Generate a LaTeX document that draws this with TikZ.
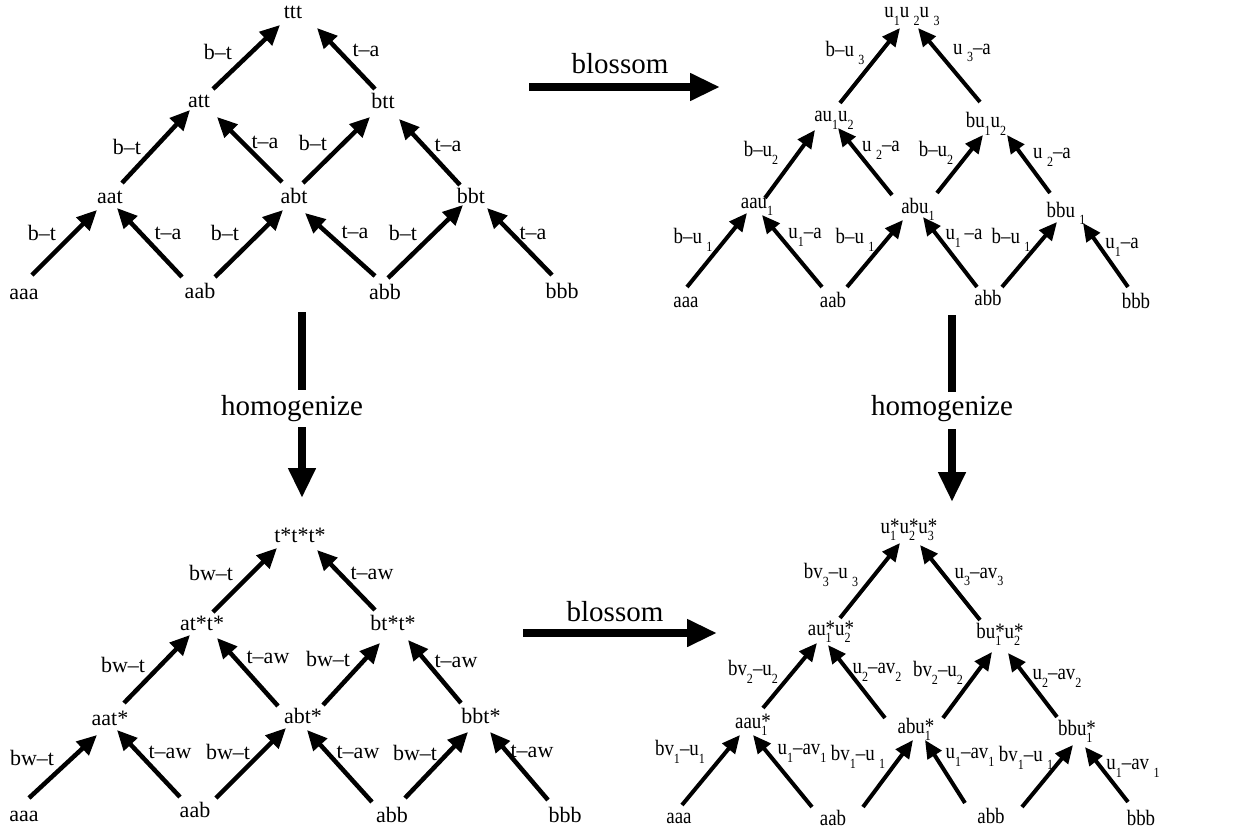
\documentclass[tikz,border=0pt]{standalone}
\usepackage{fontspec}
\setmainfont{Liberation Serif}
\newfontfamily\condfont[FakeStretch=0.86]{Liberation Serif}
\usetikzlibrary{arrows.meta}

% lowered subscript, optionally with a small gap before it
\newcommand\subdn[1]{\raisebox{-0.35em}{\fontsize{14}{14}\selectfont #1}}
\newcommand\subgap[1]{\hspace{0.2em}\subdn{#1}}
% u with a subscript and a star stacked above it
\newcommand\ustar[1]{u\rlap{\subdn{#1}}*}
% arrow between two labels, each end shifted from the label's base point
\newcommand\edgeup[5][arr]{\draw[#1] ([shift={(#3)}]#2.base) -- ([shift={(#5)}]#4.base);}

\begin{document}
\begin{tikzpicture}[x=1pt,y=-1pt,
  lbl/.style={font=\fontsize{22}{26}\selectfont, inner sep=0pt, anchor=base},
  rlbl/.style={font=\condfont\fontsize{22}{26}\selectfont, inner sep=0pt, anchor=base},
  elab/.style={font=\fontsize{22}{26}\selectfont, inner sep=0pt},
  relab/.style={font=\condfont\fontsize{22}{26}\selectfont, inner sep=0pt},
  big/.style={font=\fontsize{29}{34}\selectfont, inner sep=0pt, anchor=base},
  arr/.style={line width=4.5pt, -{Triangle[length=20pt,width=18pt]}},
  rarr/.style={line width=4pt, -{Triangle[length=18pt,width=16pt]}},
  bar/.style={line width=8pt},
  bigarr/.style={line width=8pt, -{Triangle[length=30pt,width=26pt]}}]
\useasboundingbox (0,0) rectangle (1245,832);

% ---------------- top left: t t t ----------------
\node[lbl] (A-ttt) at (293,19) {ttt};
\node[lbl] (A-att) at (199,108) {att};
\node[lbl] (A-btt) at (383,109) {btt};
\node[lbl] (A-aat) at (110,203) {aat};
\node[lbl] (A-abt) at (294,203) {abt};
\node[lbl] (A-bbt) at (471,203) {bbt};
\node[lbl] (A-aaa) at (24,299) {aaa};
\node[lbl] (A-aab) at (200,298) {aab};
\node[lbl] (A-abb) at (385,299) {abb};
\node[lbl] (A-bbb) at (562,298) {bbb};

\edgeup{A-aaa}{8,-24}{A-aat}{-13,7}
\edgeup{A-aab}{-18,-21}{A-aat}{7,5}
\edgeup{A-aab}{15,-21}{A-abt}{-11,7}
\edgeup{A-abb}{-10,-23}{A-abt}{11,10}
\edgeup{A-abb}{3,-21}{A-bbt}{-8,2}
\edgeup{A-bbb}{-10,-23}{A-bbt}{16,5}
\edgeup{A-aat}{12,-20}{A-att}{-9,2}
\edgeup{A-abt}{-12,-21}{A-att}{18,9}
\edgeup{A-abt}{9,-20}{A-btt}{-13,8}
\edgeup{A-bbt}{-11,-18}{A-btt}{16,10}
\edgeup{A-att}{14,-19}{A-ttt}{-13,6}
\edgeup{A-btt}{-8,-20}{A-ttt}{24,9}

\node[elab] (A-e1) at (42,233) {b–t};
\node[elab] (A-e2) at (168,233) {t–a};
\node[elab] (A-e3) at (225,233) {b–t};
\node[elab] (A-e4) at (355,232) {t–a};
\node[elab] (A-e5) at (403,233) {b–t};
\node[elab] (A-e6) at (533,233) {t–a};
\node[elab] (A-e7) at (127,147) {b–t};
\node[elab] (A-e8) at (265,142) {t–a};
\node[elab] (A-e9) at (313,143) {b–t};
\node[elab] (A-e10) at (448,145) {t–a};
\node[elab] (A-e11) at (218,52) {b–t};
\node[elab] (A-e12) at (366,50) {t–a};

% ---------------- top right: u1 u2 u3 ----------------
\node[rlbl] (B-top) at (912,18) {u\subdn1u\subgap2u\subgap3};
\node[rlbl] (B-au) at (834,122) {au\subdn1u\subdn2};
\node[rlbl] (B-bu) at (986,128) {bu\subdn1u\subdn2};
\node[rlbl] (B-aau) at (757,208) {aau\subdn1};
\node[rlbl] (B-abu) at (918,213) {abu\subdn1};
\node[rlbl] (B-bbu) at (1066,217) {bbu\subgap1};
\node[rlbl] (B-aaa) at (686,307) {aaa};
\node[rlbl] (B-aab) at (833,307) {aab};
\node[rlbl] (B-abb) at (988,305) {abb};
\node[rlbl] (B-bbb) at (1136,308) {bbb};

\edgeup[rarr]{B-aaa}{1,-20}{B-aau}{-10,5}
\edgeup[rarr]{B-aab}{-11,-20}{B-aau}{5,7}
\edgeup[rarr]{B-aab}{14,-20}{B-abu}{-15,7}
\edgeup[rarr]{B-abb}{-11,-18}{B-abu}{5,4}
\edgeup[rarr]{B-abb}{14,-18}{B-bbu}{-9,5}
\edgeup[rarr]{B-bbb}{-8,-21}{B-bbu}{17,6}
\edgeup[rarr]{B-aau}{8,-10}{B-au}{-19,8}
\edgeup[rarr]{B-abu}{-26,-18}{B-au}{4,6}
\edgeup[rarr]{B-abu}{19,-20}{B-bu}{-3,7}
\edgeup[rarr]{B-bbu}{-16,-24}{B-bu}{21,7}
\edgeup[rarr]{B-au}{6,-19}{B-top}{-12,10}
\edgeup[rarr]{B-bu}{-6,-26}{B-top}{6,10}

\node[relab] (B-e1) at (693,240) {b–u\subgap1};
\node[relab] (B-e2) at (805,237) {u\subdn1–a};
\node[relab] (B-e3) at (855,240) {b–u\subgap1};
\node[relab] (B-e4) at (964,238) {u\subdn1\,–a};
\node[relab] (B-e5) at (1011,240) {b–u\subgap1};
\node[relab] (B-e6) at (1122,247) {u\subdn1–a};
\node[relab] (B-e7) at (761,153) {b–u\subdn2};
\node[relab] (B-e8) at (881,150) {u\subgap2–a};
\node[relab] (B-e9) at (936,153) {b–u\subdn2};
\node[relab] (B-e10) at (1052,157) {u\subgap2–a};
\node[relab] (B-e11) at (845,53) {b–u\subgap3};
\node[relab] (B-e12) at (972,53) {u\subgap3–a};

% ---------------- bottom left: t* t* t* ----------------
\node[lbl] (C-top) at (300,542) {t*t*t*};
\node[lbl] (C-at) at (202,630) {at*t*};
\node[lbl] (C-bt) at (393,630) {bt*t*};
\node[lbl] (C-aat) at (110,725) {aat*};
\node[lbl] (C-abt) at (303,723) {abt*};
\node[lbl] (C-bbt) at (481,723) {bbt*};
\node[lbl] (C-aaa) at (24,821) {aaa};
\node[lbl] (C-aab) at (195,817) {aab};
\node[lbl] (C-abb) at (392,822) {abb};
\node[lbl] (C-bbb) at (565,822) {bbb};

\edgeup{C-aaa}{5,-23}{C-aat}{-13,10}
\edgeup{C-aab}{-15,-20}{C-aat}{7,5}
\edgeup{C-aab}{21,-19}{C-abt}{-17,5}
\edgeup{C-abb}{-20,-20}{C-abt}{4,7}
\edgeup{C-abb}{13,-24}{C-bbt}{-13,9}
\edgeup{C-bbb}{-17,-22}{C-bbt}{9,9}
\edgeup{C-aat}{14,-22}{C-at}{-12,5}
\edgeup{C-abt}{-25,-17}{C-at}{15,8}
\edgeup{C-abt}{20,-18}{C-bt}{-13,13}
\edgeup{C-bbt}{-20,-20}{C-bt}{15,10}
\edgeup{C-at}{11,-18}{C-top}{-23,6}
\edgeup{C-bt}{-18,-20}{C-top}{17,8}

\node[elab] (C-e1) at (32,758) {bw–t};
\node[elab] (C-e2) at (170,752) {t–aw};
\node[elab] (C-e3) at (228,752) {bw–t};
\node[elab] (C-e4) at (358,752) {t–aw};
\node[elab] (C-e5) at (415,753) {bw–t};
\node[elab] (C-e6) at (532,751) {t–aw};
\node[elab] (C-e7) at (123,665) {bw–t};
\node[elab] (C-e8) at (268,657) {t–aw};
\node[elab] (C-e9) at (328,659) {bw–t};
\node[elab] (C-e10) at (456,661) {t–aw};
\node[elab] (C-e11) at (211,573) {bw–t};
\node[elab] (C-e12) at (372,573) {t–aw};

% ---------------- bottom right: u1* u2* u3* ----------------
\node[rlbl] (D-top) at (909,533) {\ustar1\ustar2\ustar3};
\node[rlbl] (D-au) at (831,635) {a\ustar1\ustar2};
\node[rlbl] (D-bu) at (1000,638) {b\ustar1\ustar2};
\node[rlbl] (D-aau) at (753,728) {aa\ustar1};
\node[rlbl] (D-abu) at (916,733) {ab\ustar1};
\node[rlbl] (D-bbu) at (1077,735) {bb\ustar1};
\node[rlbl] (D-aaa) at (679,823) {aaa};
\node[rlbl] (D-aab) at (833,825) {aab};
\node[rlbl] (D-abb) at (991,823) {abb};
\node[rlbl] (D-bbb) at (1141,825) {bbb};

\edgeup[rarr]{D-aaa}{3,-18}{D-aau}{-13,7}
\edgeup[rarr]{D-aab}{-21,-18}{D-aau}{0,7}
\edgeup[rarr]{D-aab}{30,-18}{D-abu}{-3,7}
\edgeup[rarr]{D-abb}{-26,-20}{D-abu}{9,7}
\edgeup[rarr]{D-abb}{31,-16}{D-bbu}{-4,10}
\edgeup[rarr]{D-bbb}{-13,-23}{D-bbu}{8,12}
\edgeup[rarr]{D-aau}{10,-20}{D-au}{-14,8}
\edgeup[rarr]{D-abu}{-31,-15}{D-au}{-3,10}
\edgeup[rarr]{D-abu}{27,-15}{D-bu}{-8,14}
\edgeup[rarr]{D-bbu}{-20,-18}{D-bu}{8,15}
\edgeup[rarr]{D-au}{9,-17}{D-top}{-9,10}
\edgeup[rarr]{D-bu}{-20,-18}{D-top}{11,12}

\node[relab] (D-e1) at (680,752) {bv\subdn1–u\subdn1};
\node[relab] (D-e2) at (802,753) {u\subdn1–av\subdn1};
\node[relab] (D-e3) at (858,757) {bv\subdn1–u\subgap1};
\node[relab] (D-e4) at (970,757) {u\subdn1–av\subdn1};
\node[relab] (D-e5) at (1026,758) {bv\subdn1–u\subgap1};
\node[relab] (D-e6) at (1133,768) {u\subdn1–av\subgap1};
\node[relab] (D-e7) at (753,672) {bv\subdn2–u\subdn2};
\node[relab] (D-e8) at (877,672) {u\subdn2–av\subdn2};
\node[relab] (D-e9) at (938,673) {bv\subdn2–u\subdn2};
\node[relab] (D-e10) at (1057,678) {u\subdn2–av\subdn2};
\node[relab] (D-e11) at (831,575) {bv\subdn3–u\subgap3};
\node[relab] (D-e12) at (979,577) {u\subdn3–av\subdn3};

% ---------------- transformations between the four lattices ----------------
\node[big] (blossomA) at (620,74) {blossom};
\coordinate (bA1) at (529,87);
\coordinate (bA2) at (720,87);
\draw[bigarr] (bA1) -- (bA2);

\node[big] (blossomB) at (615,621) {blossom};
\coordinate (bB1) at (523,633);
\coordinate (bB2) at (717,633);
\draw[bigarr] (bB1) -- (bB2);

\node[big] (homA) at (292,415) {homogenize};
\coordinate (hA1) at (302,312);
\coordinate (hA2) at (302,390);
\coordinate (hA3) at (302,427);
\coordinate (hA4) at (302,498);
\draw[bar] (hA1) -- (hA2);
\draw[bigarr] (hA3) -- (hA4);

\node[big] (homB) at (942,415) {homogenize};
\coordinate (hB1) at (952,315);
\coordinate (hB2) at (952,392);
\coordinate (hB3) at (952,429);
\coordinate (hB4) at (952,502);
\draw[bar] (hB1) -- (hB2);
\draw[bigarr] (hB3) -- (hB4);
\end{tikzpicture}
\end{document}
